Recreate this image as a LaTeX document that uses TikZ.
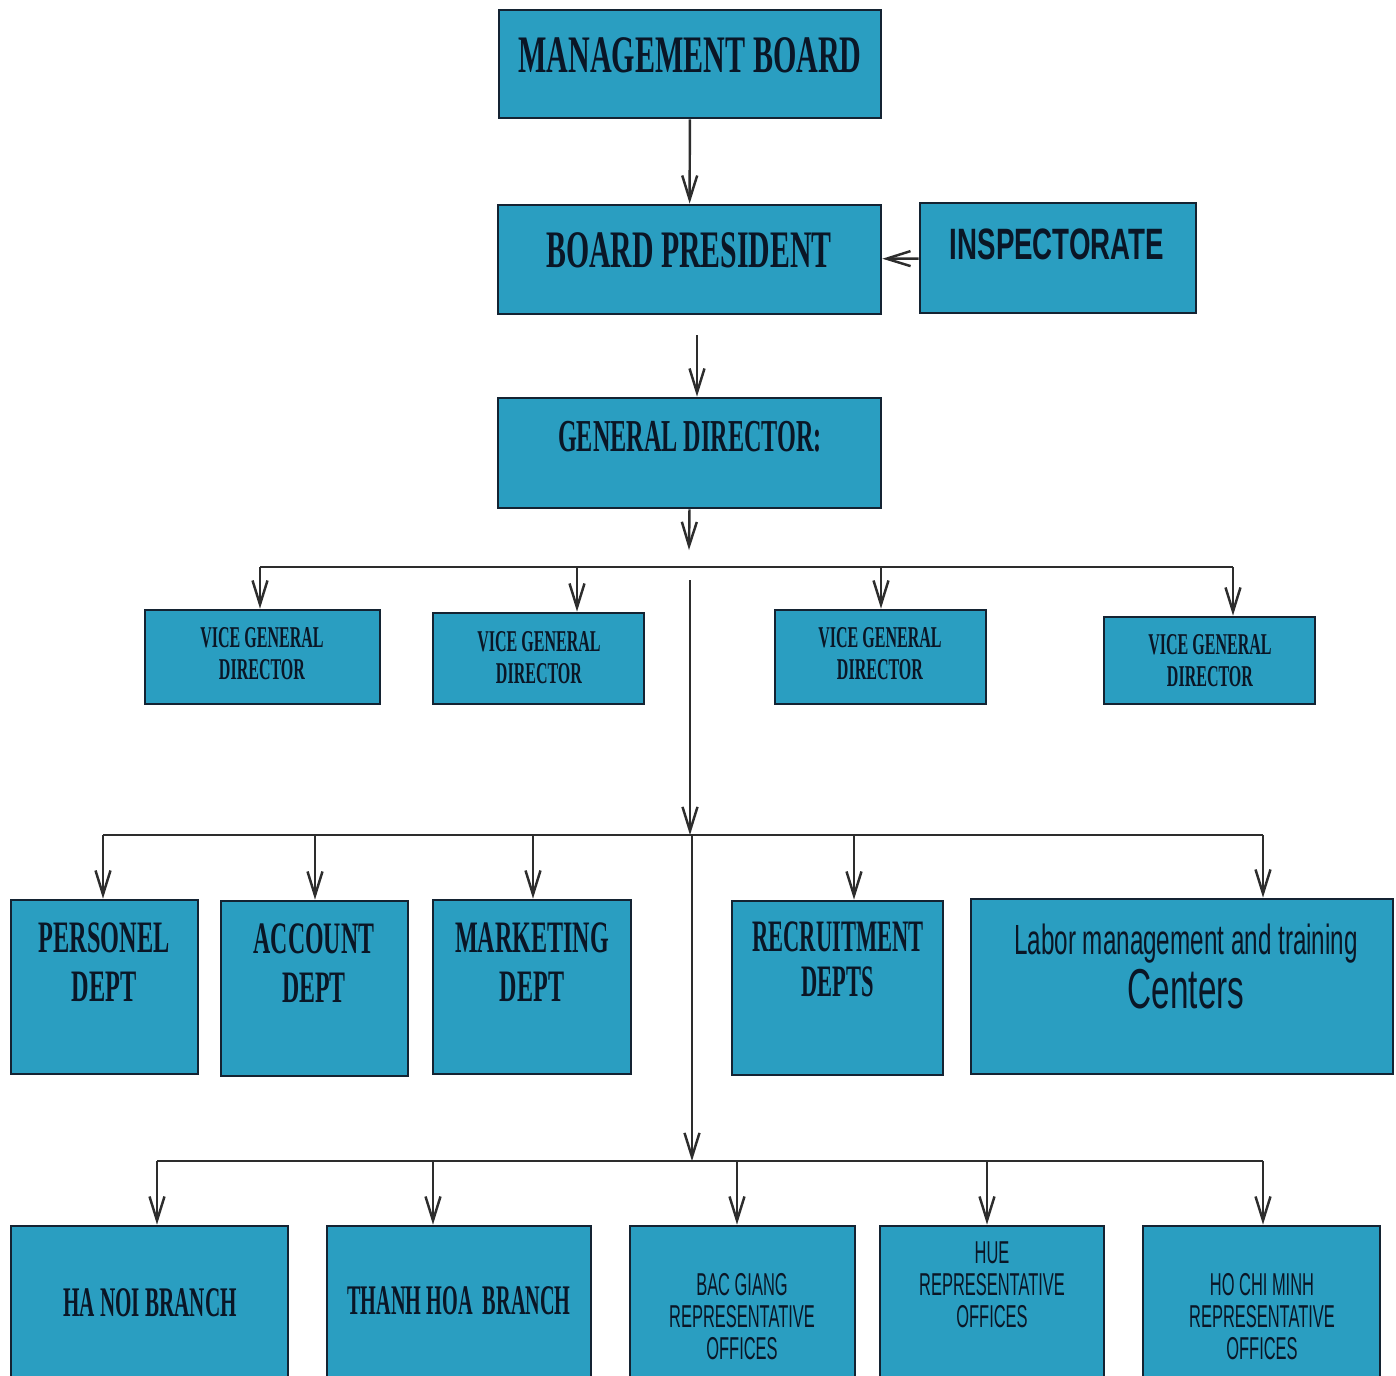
\documentclass[tikz,border=0pt]{standalone}
\usepackage{fontspec}
\setmainfont{Liberation Serif}
\newfontfamily\sansfont{Liberation Sans}
\usepackage{graphicx}
\usetikzlibrary{arrows.meta,fit,calc}
\definecolor{boxfill}{RGB}{42,158,193}
\definecolor{boxline}{RGB}{20,35,50}
\definecolor{ink}{RGB}{10,22,38}
\definecolor{linec}{RGB}{45,45,45}
\newcommand{\sq}[2]{\scalebox{#1}[1]{\begin{tabular}{@{}c@{}}#2\end{tabular}}}

\begin{document}
\begin{tikzpicture}[
  box/.style={draw=boxline, fill=boxfill, line width=0.8pt, inner sep=0pt},
  head/.style={text=ink, font=\bfseries\fontsize{15}{17}\selectfont},
  vice/.style={text=ink, font=\bfseries\fontsize{8.6}{9.2}\selectfont},
  dept/.style={text=ink, font=\bfseries\fontsize{12.8}{14}\selectfont},
  branch/.style={text=ink, font=\bfseries\fontsize{12}{13}\selectfont},
  office/.style={text=ink, font=\sansfont\fontsize{9}{9.1}\selectfont},
  bus/.style={draw=linec, line width=0.7pt},
  arr/.style={bus, -{Straight Barb[length=2.4mm,width=1.5mm,line width=0.7pt]}}
]
\useasboundingbox (0,0) rectangle (13.96,-13.76);
\clip (0,0) rectangle (13.96,-13.76);

% top of the chart
\node[box, fit={(4.99,-0.10) (8.81,-1.18)}] (mb) {};
\node[box, fit={(4.98,-2.05) (8.81,-3.14)}] (bp) {};
\node[box, fit={(9.20,-2.03) (11.96,-3.13)}] (insp) {};
\node[box, fit={(4.98,-3.98) (8.81,-5.08)}] (gd) {};
\node[head] (mbt) at (6.90,-0.61) {\sq{0.57}{MANAGEMENT BOARD}};
\node[head] (bpt) at (6.89,-2.56) {\sq{0.565}{BOARD PRESIDENT}};
\node[text=ink, font=\sansfont\bfseries\fontsize{12.5}{14}\selectfont] (inspt) at (10.57,-2.50) {\sq{0.63}{INSPECTORATE}};
\node[text=ink, font=\bfseries\fontsize{13}{14}\selectfont] (gdt) at (6.90,-4.42) {\sq{0.53}{GENERAL DIRECTOR:}};

\draw[arr] (mb) -- (bp);
\draw[arr] (insp) -- (bp);
\coordinate (gdin) at (6.97,-3.35);
\draw[arr] (gdin) -- (gdin |- gd.north);
\coordinate (gdout) at (6.89,-5.50);
\draw[arr] (gd.south) -- (gdout);

% vice general directors
\node[box, fit={(1.45,-6.10) (3.80,-7.04)}] (v1) {};
\node[box, fit={(4.33,-6.13) (6.44,-7.04)}] (v2) {};
\node[box, fit={(7.75,-6.10) (9.86,-7.04)}] (v3) {};
\node[box, fit={(11.04,-6.17) (13.15,-7.04)}] (v4) {};
\node[vice] (v1t) at (2.62,-6.57) {\sq{0.53}{VICE GENERAL\\DIRECTOR}};
\node[vice] (v2t) at (5.39,-6.61) {\sq{0.53}{VICE GENERAL\\DIRECTOR}};
\node[vice] (v3t) at (8.80,-6.57) {\sq{0.53}{VICE GENERAL\\DIRECTOR}};
\node[vice] (v4t) at (12.10,-6.64) {\sq{0.53}{VICE GENERAL\\DIRECTOR}};

\coordinate (vbusL) at (2.60,-5.67);
\coordinate (vbusR) at (12.33,-5.67);
\draw[bus] (vbusL) -- (vbusR);
\foreach \x/\n in {2.60/v1, 5.77/v2, 8.81/v3, 12.33/v4}
  \draw[arr] (\x,-5.67) -- (\x,0 |- \n.north);

% departments
\coordinate (trunkA) at (6.90,-5.80);
\coordinate (dbus) at (6.90,-8.35);
\draw[arr] (trunkA) -- (dbus);
\coordinate (dbusL) at (1.03,-8.35);
\coordinate (dbusR) at (12.63,-8.35);
\draw[bus] (dbusL) -- (dbusR);

\node[box, fit={(0.11,-9.00) (1.98,-10.74)}] (d1) {};
\node[box, fit={(2.21,-9.01) (4.08,-10.76)}] (d2) {};
\node[box, fit={(4.33,-9.00) (6.31,-10.74)}] (d3) {};
\node[box, fit={(7.32,-9.01) (9.43,-10.75)}] (d4) {};
\node[box, fit={(9.71,-8.99) (13.93,-10.74)}] (d5) {};
\node[dept] (d1t) at (1.04,-9.67) {\sq{0.54}{PERSONEL\\DEPT}};
\node[dept] (d2t) at (3.14,-9.68) {\sq{0.53}{ACCOUNT\\DEPT}};
\node[dept] (d3t) at (5.32,-9.67) {\sq{0.535}{MARKETING\\DEPT}};
\node[text=ink, font=\bfseries\fontsize{12.8}{12.6}\selectfont] (d4t) at (8.38,-9.65) {\sq{0.5}{RECRUITMENT\\DEPTS}};
\node[text=ink, font=\sansfont\fontsize{12}{14}\selectfont] (d5t) at (11.86,-9.72)
  {\sq{0.575}{Labor management and training\\ \scalebox{1.03}[1]{\fontsize{16}{18}\selectfont Centers}}};

\foreach \x/\n in {1.03/d1, 3.15/d2, 5.33/d3, 8.54/d4, 12.63/d5}
  \draw[arr] (\x,-8.35) -- (\x,0 |- \n.north);

% branches and offices
\coordinate (trunkB) at (6.92,-8.35);
\coordinate (bbus) at (6.92,-11.61);
\draw[arr] (trunkB) -- (bbus);
\coordinate (bbusL) at (1.57,-11.61);
\coordinate (bbusR) at (12.63,-11.61);
\draw[bus] (bbusL) -- (bbusR);

\node[box, fit={(0.11,-12.26) (2.88,-14.00)}] (b1) {};
\node[box, fit={(3.27,-12.26) (5.91,-14.00)}] (b2) {};
\node[box, fit={(6.30,-12.26) (8.55,-14.00)}] (b3) {};
\node[box, fit={(8.80,-12.26) (11.04,-14.00)}] (b4) {};
\node[box, fit={(11.43,-12.26) (13.80,-14.00)}] (b5) {};
\node[branch] (b1t) at (1.50,-13.07) {\sq{0.5}{HA NOI BRANCH}};
\node[branch] (b2t) at (4.59,-13.05) {\sq{0.48}{THANH HOA\ \ BRANCH}};
\node[office] (b3t) at (7.42,-13.21) {\sq{0.52}{BAC GIANG\\REPRESENTATIVE\\OFFICES}};
\node[office] (b4t) at (9.92,-12.89) {\sq{0.52}{HUE\\REPRESENTATIVE\\OFFICES}};
\node[office] (b5t) at (12.62,-13.21) {\sq{0.52}{HO CHI MINH\\REPRESENTATIVE\\OFFICES}};

\foreach \x/\n in {1.57/b1, 4.33/b2, 7.37/b3, 9.87/b4, 12.63/b5}
  \draw[arr] (\x,-11.61) -- (\x,0 |- \n.north);
\end{tikzpicture}
\end{document}
